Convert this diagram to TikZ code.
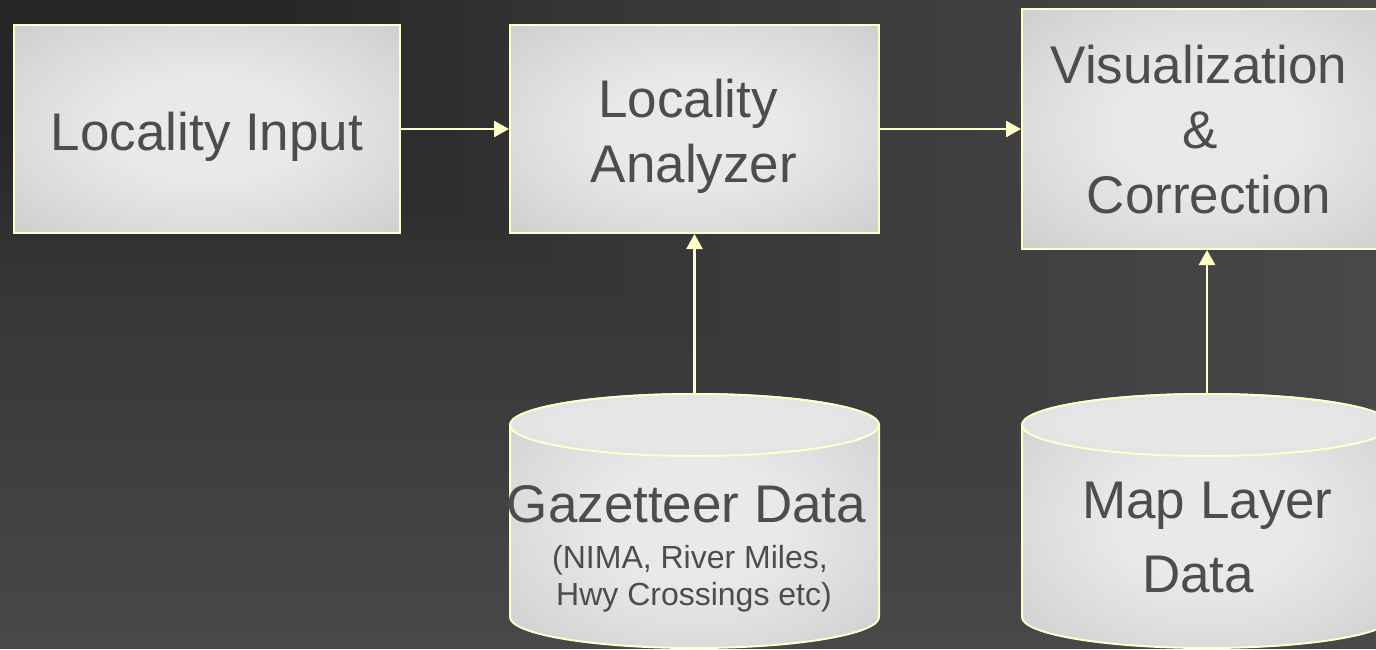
\documentclass[tikz,border=0pt]{standalone}
\usepackage{fontspec}
\setmainfont{Liberation Sans}
\usetikzlibrary{arrows.meta}
\definecolor{lineyellow}{HTML}{FFFFCC}
\definecolor{txtgray}{HTML}{4D4D4D}
\definecolor{boxin}{HTML}{E9E9E9}
\definecolor{boxmid}{HTML}{DCDCDC}
\definecolor{boxout}{HTML}{C9C9C9}
\definecolor{topin}{HTML}{E6E6E6}
\definecolor{topout}{HTML}{D6D6D6}
\pgfdeclareradialshading{boxshade}{\pgfpoint{0bp}{0bp}}{color(0bp)=(boxin); color(12bp)=(boxin); color(24bp)=(boxmid); color(40bp)=(boxout); color(50bp)=(boxout)}
\pgfdeclareradialshading{topshade}{\pgfpoint{0bp}{0bp}}{color(0bp)=(topin); color(20bp)=(topin); color(45bp)=(topout); color(50bp)=(topout)}
\tikzset{
  box/.style={draw=lineyellow, line width=2pt, shade, shading=boxshade, inner sep=0pt},
  cylbody/.style={draw=lineyellow, line width=2pt, shading=boxshade},
  cyltop/.style={draw=lineyellow, line width=2pt, shading=topshade},
  conn/.style={draw=lineyellow, line width=2.5pt, -{Triangle[length=15pt, width=16pt]}},
  big/.style={text=txtgray, inner sep=0pt, anchor=base, font=\fontsize{53}{64}\selectfont},
  small/.style={text=txtgray, inner sep=0pt, anchor=base, font=\fontsize{32}{37}\selectfont}
}
\begin{document}
\begin{tikzpicture}[x=1pt, y=-1pt]
\useasboundingbox (0,0) rectangle (1376,649);
\begin{scope}
\clip (0,0) rectangle (1376,649);
% background: rectangular gradient from the top-left corner
\foreach \i in {60,59,...,1}{
  \pgfmathsetmacro\t{0.2+0.8*\i/60}
  \pgfmathsetmacro\g{\t<0.45 ? (38+64*(\t-0.2))/255 : (54+32.73*(\t-0.45))/255}
  \definecolor{bgc}{gray}{\g}
  \fill[bgc] (0,0) rectangle ({\t*1376},{\t*649});
}

% boxes
\node[box, minimum width=386pt, minimum height=208pt] (inp) at (207,129) {};
\node[box, minimum width=369pt, minimum height=208pt] (ana) at (694.5,129) {};
\node[box, minimum width=370pt, minimum height=240pt] (vis) at (1207,129) {};

% cylinders
\shade[cylbody] (510,425) -- (510,617) arc[start angle=180, end angle=0, x radius=184.5, y radius=31] -- (879,425) arc[start angle=0, end angle=-180, x radius=184.5, y radius=31] -- cycle;
\shade[cyltop] (694.5,425) ellipse [x radius=184.5, y radius=31];
\coordinate (gaztop) at (694.5,394);

\shade[cylbody] (1022,425) -- (1022,617) arc[start angle=180, end angle=0, x radius=185, y radius=31] -- (1392,425) arc[start angle=0, end angle=-180, x radius=185, y radius=31] -- cycle;
\shade[cyltop] (1207,425) ellipse [x radius=185, y radius=31];
\coordinate (maptop) at (1207,394);

% texts
\node[big] (tinp) at (207,150) {Locality Input};
\node[big] (tana1) at (688,117) {Locality};
\node[big] (tana2) at (694,182) {Analyzer};
\node[big] (tvis1) at (1199,83) {Visualization};
\node[big] (tvis2) at (1200,148) {\&};
\node[big] (tvis3) at (1209,213) {Correction};
\node[big] (tgaz1) at (686.5,522) {Gazetteer Data};
\node[small] (tgaz2) at (690,568) {(NIMA, River Miles,};
\node[small] (tgaz3) at (694,605) {Hwy Crossings etc)};
\node[big] (tmap1) at (1207.5,518) {Map Layer};
\node[big] (tmap2) at (1198,592) {Data};

% connectors
\draw[conn] (inp.east) -- (ana.west);
\draw[conn] (ana.east) -- (vis.west);
\draw[conn] (gaztop) -- (ana.south);
\draw[conn] (maptop) -- (vis.south);
\end{scope}
\end{tikzpicture}
\end{document}
